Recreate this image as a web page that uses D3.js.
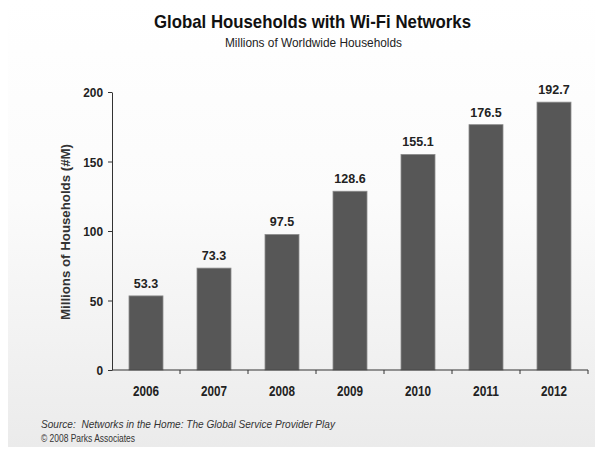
<!DOCTYPE html>
<html>
<head>
<meta charset="utf-8">
<script src="https://cdn.jsdelivr.net/npm/d3@7"></script>
<style>
  html, body { margin: 0; padding: 0; background: #fff; }
  svg { display: block; font-family: "Liberation Sans", Arial, sans-serif; }
</style>
</head>
<body>
<svg id="chart" width="595" height="449"></svg>
<script>
// Global households with Wi-Fi networks, millions
const years = ["2006", "2007", "2008", "2009", "2010", "2011", "2012"];
const households = [53.3, 73.3, 97.5, 128.6, 155.1, 176.5, 192.7];
const yTicks = [0, 50, 100, 150, 200];

const svg = d3.select("#chart");
const W = 595, H = 449;
const margin = { left: 112, right: 7, top: 92, bottom: 79 };

// soft vertical background gradient
const defs = svg.append("defs");
const grad = defs.append("linearGradient")
  .attr("id", "bg").attr("x1", 0).attr("y1", 0).attr("x2", 0).attr("y2", 1);
grad.append("stop").attr("offset", "0%").attr("stop-color", "#ffffff");
grad.append("stop").attr("offset", "45%").attr("stop-color", "#fbfbfb");
grad.append("stop").attr("offset", "100%").attr("stop-color", "#ebebeb");
svg.append("rect").attr("x", 0).attr("y", 0).attr("width", W).attr("height", H).attr("fill", "#fff");
svg.append("rect").attr("x", 8).attr("y", 0).attr("width", W - 8).attr("height", 447).attr("fill", "url(#bg)");

const x = d3.scaleBand()
  .domain(years)
  .range([margin.left, W - margin.right])
  .paddingInner(0.5)
  .paddingOuter(0.25);

const y = d3.scaleLinear()
  .domain([0, 200])
  .range([H - margin.bottom, margin.top]);

// bars
svg.append("g").selectAll("rect")
  .data(years)
  .join("rect")
  .attr("x", (d) => x(d))
  .attr("y", (d, i) => y(households[i]))
  .attr("width", x.bandwidth())
  .attr("height", (d, i) => y(0) - y(households[i]))
  .attr("fill", "#575757")
  .attr("stroke", "#8c8c8c")
  .attr("stroke-width", 0.8);

// value labels
svg.append("g").selectAll("text")
  .data(years)
  .join("text")
  .attr("x", (d) => x(d) + x.bandwidth() / 2)
  .attr("y", (d, i) => y(households[i]) - 8)
  .attr("text-anchor", "middle")
  .attr("font-size", 12.5)
  .attr("font-weight", "bold")
  .attr("fill", "#222")
  .text((d, i) => households[i].toFixed(1));

// y axis
const yAxis = svg.append("g")
  .attr("transform", `translate(${margin.left},0)`)
  .call(d3.axisLeft(y).tickValues(yTicks).tickSize(4).tickPadding(5).tickSizeOuter(0));
yAxis.select(".domain").attr("stroke", "#333");
yAxis.selectAll(".tick line").attr("stroke", "#333");
yAxis.selectAll(".tick text")
  .attr("font-size", 13)
  .attr("font-weight", "bold")
  .attr("fill", "#222")
  .attr("font-family", "Liberation Sans, Arial, sans-serif")
  .attr("dy", "0.36em")
  .each(function () {
    const n = this.textContent.length;
    d3.select(this).attr("textLength", n * 6.6).attr("lengthAdjust", "spacingAndGlyphs");
  });

// x axis with ticks between categories
const xAxisG = svg.append("g").attr("transform", `translate(0,${y(0)})`);
xAxisG.append("line")
  .attr("x1", margin.left).attr("x2", W - margin.right)
  .attr("y1", 0).attr("y2", 0)
  .attr("stroke", "#333");
xAxisG.selectAll(".sep")
  .data(years)
  .join("line")
  .attr("class", "sep")
  .attr("x1", (d) => x(d) + x.bandwidth() + x.step() * 0.25)
  .attr("x2", (d) => x(d) + x.bandwidth() + x.step() * 0.25)
  .attr("y1", 0).attr("y2", 4)
  .attr("stroke", "#333");
xAxisG.selectAll(".lbl")
  .data(years)
  .join("text")
  .attr("class", "lbl")
  .attr("x", (d) => x(d) + x.bandwidth() / 2)
  .attr("y", 26)
  .attr("text-anchor", "middle")
  .attr("font-size", 14)
  .attr("font-weight", "bold")
  .attr("fill", "#222")
  .attr("textLength", 26)
  .attr("lengthAdjust", "spacingAndGlyphs")
  .text((d) => d);

// y axis title
svg.append("text")
  .attr("transform", `translate(70,${(y(0) + y(200)) / 2 + 1}) rotate(-90)`)
  .attr("text-anchor", "middle")
  .attr("font-size", 13)
  .attr("font-weight", "bold")
  .attr("fill", "#333")
  .attr("textLength", 176)
  .attr("lengthAdjust", "spacingAndGlyphs")
  .text("Millions of Households (#M)");

// title and subtitle
svg.append("text")
  .attr("x", 312.5).attr("y", 28)
  .attr("text-anchor", "middle")
  .attr("font-size", 19)
  .attr("font-weight", "bold")
  .attr("fill", "#111")
  .attr("textLength", 317)
  .attr("lengthAdjust", "spacingAndGlyphs")
  .text("Global Households with Wi-Fi Networks");

svg.append("text")
  .attr("x", 313.5).attr("y", 47)
  .attr("text-anchor", "middle")
  .attr("font-size", 12.5)
  .attr("fill", "#222")
  .attr("textLength", 177)
  .attr("lengthAdjust", "spacingAndGlyphs")
  .text("Millions of Worldwide Households");

// source notes
svg.append("text")
  .attr("x", 41).attr("y", 428)
  .attr("font-size", 11)
  .attr("font-style", "italic")
  .attr("fill", "#333")
  .attr("textLength", 294)
  .attr("lengthAdjust", "spacingAndGlyphs")
  .attr("xml:space", "preserve")
  .text("Source:  Networks in the Home: The Global Service Provider Play");

svg.append("text")
  .attr("x", 41).attr("y", 442)
  .attr("font-size", 11)
  .attr("fill", "#333")
  .attr("textLength", 94)
  .attr("lengthAdjust", "spacingAndGlyphs")
  .text("\u00a9 2008 Parks Associates");
</script>
</body>
</html>
